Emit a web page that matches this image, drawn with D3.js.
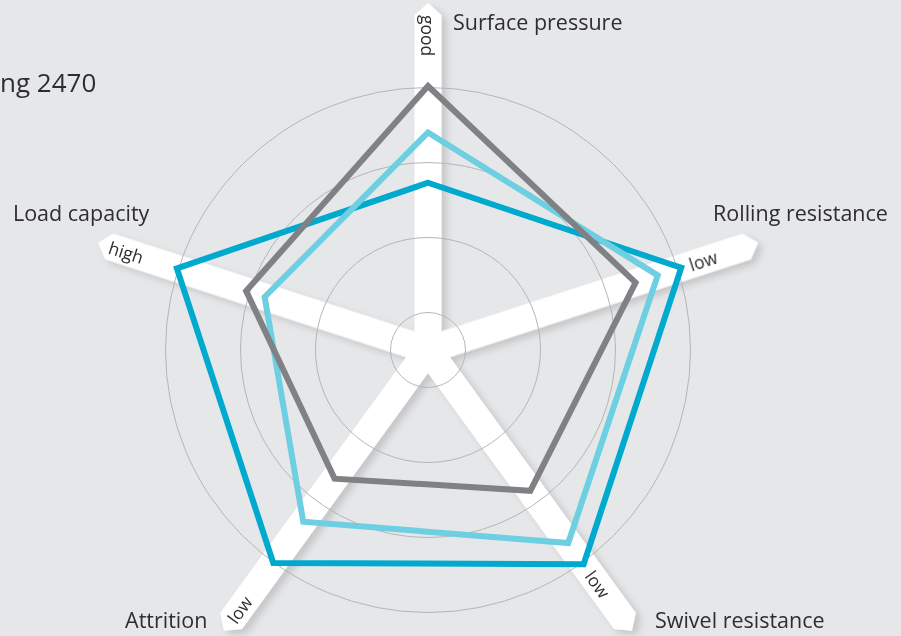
<!DOCTYPE html>
<html>
<head>
<meta charset="utf-8">
<script src="https://cdn.jsdelivr.net/npm/d3@7"></script>
<style>
  body { margin: 0; background: #e6e7e9; }
  svg { display: block; }
  text { font-family: "Open Sans", sans-serif; fill: #2e2e30; }
</style>
</head>
<body>
<div id="chart"></div>
<script>
// radar chart values (scale 0..4)
const axes = ["Surface pressure", "Rolling resistance", "Swivel resistance", "Attrition", "Load capacity"];
const axisMarks = ["good", "low", "low", "low", "high"];
const seriesDark = [2.23, 3.55, 3.53, 3.51, 3.52];
const seriesLight = [2.9, 3.22, 3.18, 2.83, 2.29];
const seriesGrey = [3.52, 2.91, 2.32, 2.12, 2.55];
const rings = [0.5, 1.5, 2.5, 3.5];
const title = "ng 2470";

const width = 901, height = 636;
const cx = 428, cy = 350;

const svg = d3.select('#chart')
  .append('svg')
  .attr('width', width)
  .attr('height', height)
  .style('background-color', '#e6e7e9');

const defs = svg.append('defs');
const shadow = defs.append('filter').attr('id', 'shadow')
  .attr('x', '-20%').attr('y', '-20%').attr('width', '140%').attr('height', '140%');
shadow.append('feDropShadow')
  .attr('dx', 5).attr('dy', 4)
  .attr('stdDeviation', 3.5)
  .attr('flood-color', '#000')
  .attr('flood-opacity', 0.14);

const r = d3.scaleLinear().domain([0, 4]).range([0, 300]);
const angle = d3.scaleLinear().domain([0, axes.length]).range([0, 2 * Math.PI]);
const axisLen = 347, bandW = 27, headLen = 12;

const g = svg.append('g').attr('transform', `translate(${cx},${cy})`);

// white arrow bands
const bands = g.append('g').attr('filter', 'url(#shadow)');
bands.selectAll('path')
  .data(axes)
  .enter()
  .append('path')
  .attr('fill', '#fff')
  .attr('transform', (d, i) => `rotate(${angle(i) * 180 / Math.PI - 90})`)
  .attr('d', `M0,${-bandW / 2}L${axisLen - headLen},${-bandW / 2}L${axisLen},0L${axisLen - headLen},${bandW / 2}L0,${bandW / 2}Z`);

// grid rings
g.selectAll('circle.ring')
  .data(rings)
  .enter()
  .append('circle')
  .attr('class', 'ring')
  .attr('r', d => r(d))
  .attr('fill', 'none')
  .attr('stroke', '#b4b5b7')
  .attr('stroke-width', 1);

// series
const line = d3.lineRadial()
  .angle((d, i) => angle(i))
  .radius(d => r(d))
  .curve(d3.curveLinearClosed);

const series = [
  { values: seriesDark, color: '#00a9ce' },
  { values: seriesLight, color: '#6dcfe1' },
  { values: seriesGrey, color: '#808184' }
];

g.selectAll('path.series')
  .data(series)
  .enter()
  .append('path')
  .attr('class', 'series')
  .attr('d', d => line(d.values))
  .attr('fill', 'none')
  .attr('stroke', d => d.color)
  .attr('stroke-width', 6)
  .attr('stroke-linejoin', 'miter');

// small labels on the bands
g.selectAll('text.mark')
  .data(axisMarks)
  .enter()
  .append('text')
  .attr('class', 'mark')
  .attr('font-size', 17.5)
  .attr('dominant-baseline', 'central')
  .attr('transform', (d, i) => {
    const deg = angle(i) * 180 / Math.PI - 90;
    const outward = deg > -90 && deg < 90;
    const rr = outward ? 275 : 335;
    const a = deg * Math.PI / 180;
    const rot = outward ? deg : deg + 180;
    return `translate(${rr * Math.cos(a)},${rr * Math.sin(a)}) rotate(${rot})`;
  })
  .text(d => d);

// axis titles, placed next to the arrow tips
const titleOffsets = [[25, 27], [-45, -22], [23, -3], [-99, -3], [-85, -22]];
svg.selectAll('text.axis')
  .data(axes)
  .enter()
  .append('text')
  .attr('class', 'axis')
  .attr('font-size', 21.5)
  .attr('x', (d, i) => cx + axisLen * Math.sin(angle(i)) + titleOffsets[i][0])
  .attr('y', (d, i) => cy - axisLen * Math.cos(angle(i)) + titleOffsets[i][1])
  .text(d => d);

svg.append('text')
  .attr('x', 0)
  .attr('y', 92)
  .attr('font-size', 26)
  .text(title);
</script>
</body>
</html>
